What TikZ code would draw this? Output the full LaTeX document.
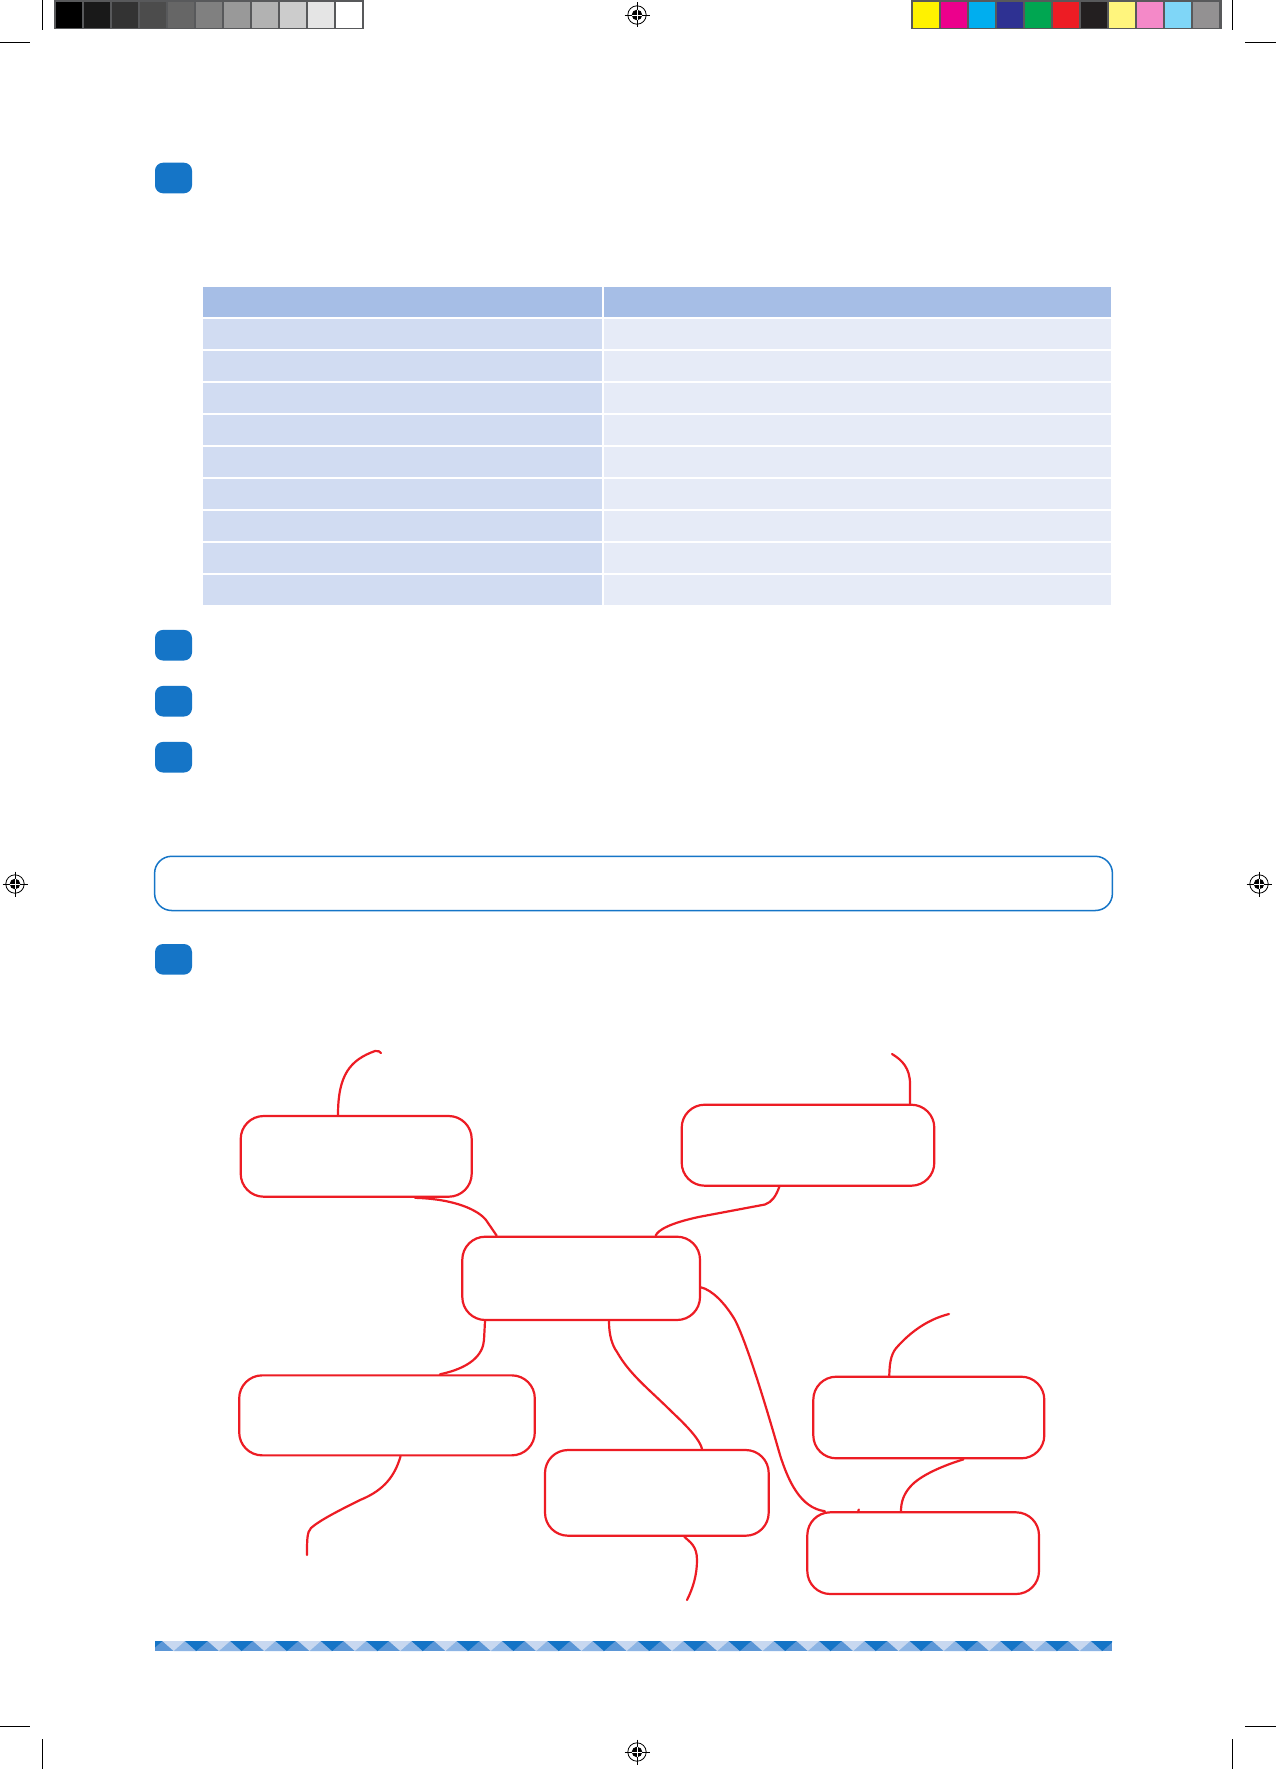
\documentclass[tikz,border=0pt]{standalone}
\usetikzlibrary{calc}
\definecolor{badgeblue}{RGB}{21,117,199}
\definecolor{redline}{RGB}{237,28,36}
\definecolor{hdrblue}{RGB}{166,190,230}
\definecolor{rowleft}{RGB}{209,220,242}
\definecolor{rowright}{RGB}{230,235,247}
\definecolor{framegray}{RGB}{88,89,91}
\definecolor{cbA}{RGB}{255,242,0}
\definecolor{cbB}{RGB}{236,0,140}
\definecolor{cbC}{RGB}{0,174,239}
\definecolor{cbD}{RGB}{46,49,146}
\definecolor{cbE}{RGB}{0,166,81}
\definecolor{cbF}{RGB}{237,28,36}
\definecolor{cbG}{RGB}{35,31,32}
\definecolor{cbH}{RGB}{255,245,125}
\definecolor{cbI}{RGB}{244,137,200}
\definecolor{cbJ}{RGB}{127,214,247}
\definecolor{cbK}{RGB}{147,145,146}
\definecolor{bandDark}{RGB}{20,116,198}
\definecolor{bandMed}{RGB}{91,150,214}
\definecolor{bandLight}{RGB}{140,180,228}
\definecolor{bandVLight}{RGB}{200,216,240}
\begin{document}
\begin{tikzpicture}[x=1pt,y=-1pt,
  mapbox/.style={draw=redline, line width=2.2pt, rounded corners=23pt, inner sep=0pt},
  link/.style={draw=redline, line width=2.2pt, line cap=round, line join=round},
  badge/.style={fill=badgeblue, rounded corners=8pt, minimum width=37pt, minimum height=30.6pt, inner sep=0pt},
  cropline/.style={draw=black, line width=0.9pt},
  regmark/.pic={
    \draw[line width=0.8pt] (0,0) circle (9.2);
    \draw[line width=0.8pt] (-12.5,0) -- (12.5,0) (0,-12.5) -- (0,12.5);
    \fill (0,0) circle (5.3);
    \draw[white, line width=0.8pt] (-5.3,0) -- (5.3,0) (0,-5.3) -- (0,5.3);
  }]
\useasboundingbox (0,0) rectangle (1276,1769);
\fill[white] (0,0) rectangle (1276,1769);

% ---- printer marks ----
\fill[framegray] (54,0) rectangle (363.7,29.4);
\foreach \i in {0,...,10}{
  \pgfmathtruncatemacro{\lvl}{100-10*\i}
  \fill[black!\lvl!white] (55.7+28*\i,2) rectangle (82+28*\i,28);
}
\fill[framegray] (911,0) rectangle (1221.5,29.4);
\foreach \c [count=\i from 0] in {cbA,cbB,cbC,cbD,cbE,cbF,cbG,cbH,cbI,cbJ,cbK}{
  \fill[\c] (913+28*\i,2) rectangle (939.3+28*\i,28);
}
\draw[cropline] (42.5,0) -- (42.5,30) (0,42.3) -- (30,42.3);
\draw[cropline] (1232.3,0) -- (1232.3,30) (1245,42.3) -- (1276,42.3);
\draw[cropline] (42.5,1739) -- (42.5,1769) (0,1726.7) -- (30,1726.7);
\draw[cropline] (1232.3,1739) -- (1232.3,1769) (1245,1726.7) -- (1276,1726.7);
\pic at (637,15) {regmark};
\pic at (15,884) {regmark};
\pic at (1259,884) {regmark};
\pic at (637,1752) {regmark};

% ---- badges ----
\node[badge] (b1) at (173.5,178) {};
\node[badge] (b2) at (173.5,645.2) {};
\node[badge] (b3) at (173.5,701.2) {};
\node[badge] (b4) at (173.5,757.2) {};
\node[badge] (b5) at (173.5,959.3) {};

% ---- table ----
\fill[hdrblue] (202.7,286.7) rectangle (602.3,317);
\fill[hdrblue] (604,286.7) rectangle (1111.3,317);
\foreach \r in {0,...,8}{
  \fill[rowleft] (202.7,319+32*\r) rectangle (602.3,349+32*\r);
  \fill[rowright] (604,319+32*\r) rectangle (1111.3,349+32*\r);
}

% ---- framed box ----
\node[draw=badgeblue, line width=1.5pt, rounded corners=17pt, inner sep=0pt,
      minimum width=957.8pt, minimum height=54.2pt] (frame) at (633.5,883.4) {};

% ---- bottom band ----
\begin{scope}
  \clip (155,1641) rectangle (1112,1651);
  \fill[bandMed] (155,1641) rectangle (1112,1651);
  \foreach \k in {-1,...,22}{
    \pgfmathsetmacro{\a}{185+45.3*\k}
    \fill[bandLight] (\a-11.3,1651) -- (\a+11.3,1651) -- (\a,1641) -- cycle;
    \fill[bandVLight] (\a-22.6,1641) -- (\a,1641) -- (\a-11.3,1651) -- cycle;
    \fill[bandDark] (\a,1641) -- (\a+22.6,1641) -- (\a+11.3,1651) -- cycle;
  }
\end{scope}

% ---- mind map boxes ----
\node[mapbox, minimum width=231pt, minimum height=80.7pt] (A) at (356.2,1156.35) {};
\node[mapbox, minimum width=252.6pt, minimum height=81pt] (B) at (808,1145.2) {};
\node[mapbox, minimum width=237.7pt, minimum height=83.3pt] (C) at (581.15,1278.35) {};
\node[mapbox, minimum width=295.6pt, minimum height=80pt] (D) at (387,1415.35) {};
\node[mapbox, minimum width=223.7pt, minimum height=85.7pt] (E) at (656.85,1492.85) {};
\node[mapbox, minimum width=231pt, minimum height=81.6pt] (F) at (928.8,1417.5) {};
\node[mapbox, minimum width=231.7pt, minimum height=81.7pt] (G) at (923.15,1553.15) {};

\coordinate (a1) at (381,1053);
\coordinate (b1end) at (892,1054);
\coordinate (d1) at (307,1555);
\coordinate (e1) at (687,1600);
\coordinate (f1) at (949,1314);

% ---- connectors ----
\draw[link] ([xshift=-18.2pt]A.north) .. controls (338,1075) and (350,1060) .. (375,1051)
  .. controls (378,1050.5) and (380,1051.5) .. (a1);
\draw[link] ([xshift=58.8pt]A.south) .. controls (455,1199) and (478,1210) .. (486,1220)
  -- ([xshift=-84.5pt]C.north);
\draw[link] ([xshift=102pt]B.north) -- (910,1084) .. controls (910,1068) and (902,1060) .. (b1end);
\draw[link] ([xshift=-28.7pt]B.south) .. controls (776,1196) and (772,1202) .. (765,1204.5)
  -- (700,1216.7) .. controls (670,1223) and (658,1230) .. ([xshift=74.5pt]C.north);
\draw[link] ([yshift=-9pt]C.east) .. controls (712,1290) and (725,1303) .. (735,1320)
  .. controls (748,1345) and (770,1420) .. (780,1455)
  .. controls (788,1480) and (800,1508) .. ([xshift=18.7pt]G.north west);
\draw[link] (858,1512) -- (858.8,1509.5);
\draw[link] ([xshift=-96.15pt]C.south) -- (484,1340) .. controls (483,1355) and (470,1368) .. ([xshift=53pt]D.north);
\draw[link] ([xshift=13.5pt]D.south) .. controls (395,1475) and (385,1490) .. (360,1500)
  .. controls (340,1510) and (320,1520) .. (311,1528) .. controls (307,1532) and (307,1540) .. (d1);
\draw[link] ([xshift=27.85pt]C.south) .. controls (609,1335) and (612,1345) .. (617,1352)
  .. controls (630,1375) and (650,1390) .. (672,1412) .. controls (688,1427) and (700,1440) .. ([xshift=45.15pt]E.north);
\draw[link] ([xshift=27.45pt]E.south) .. controls (690,1542) and (697,1546) .. (697,1560)
  .. controls (697,1575) and (693,1588) .. (e1);
\draw[link] ([xshift=-39.5pt]F.north) .. controls (889.5,1360) and (892,1352) .. (898,1346)
  .. controls (908,1335) and (925,1320) .. (f1);
\draw[link] ([xshift=34.5pt]F.south) .. controls (945,1465) and (920,1475) .. (910,1487)
  .. controls (903,1495) and (901,1503) .. ([xshift=-22.15pt]G.north);
\end{tikzpicture}
\end{document}
